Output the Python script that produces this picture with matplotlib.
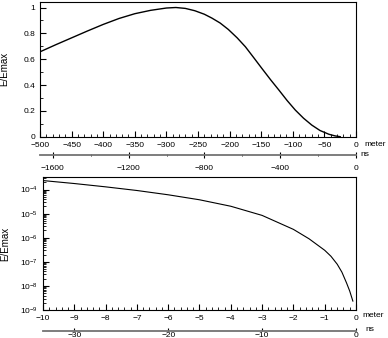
import matplotlib
matplotlib.use("Agg")
import matplotlib.pyplot as plt
from matplotlib.ticker import MultipleLocator, LogLocator, NullFormatter, FuncFormatter

plt.rcParams['font.family'] = ['Liberation Sans', 'DejaVu Sans']

# top panel: field vs distance (meter)
top_m = [-500, -475, -450, -425, -400, -375, -350, -325, -300, -285, -270,
         -255, -240, -228, -215, -202, -188, -175, -162, -149, -135, -122,
         -109, -96, -83, -70, -57, -43, -33, -25]
top_e = [0.657, 0.712, 0.765, 0.818, 0.869, 0.915, 0.952, 0.978, 0.996, 1.0,
         0.993, 0.975, 0.948, 0.918, 0.88, 0.83, 0.765, 0.696, 0.613, 0.529,
         0.44, 0.361, 0.28, 0.206, 0.143, 0.09, 0.048, 0.019, 0.006, 0.0]

# bottom panel: last 10 meters, log scale
bot_m = [-10, -9, -8, -7, -6, -5, -4, -3, -2, -1.5, -1, -0.8, -0.6,
         -0.45, -0.3, -0.2, -0.1]
bot_e = [2.35e-4, 1.77e-4, 1.29e-4, 9.10e-5, 6.04e-5, 3.75e-5, 2.02e-5,
         8.43e-6, 2.22e-6, 9.02e-7, 3.01e-7, 1.70e-7, 7.96e-8, 3.72e-8,
         1.31e-8, 6.09e-9, 2.35e-9]

# time axis ticks (ns)
top_ns_major = [-1600, -1200, -800, -400, 0]
top_ns_minor = [-1400, -1000, -600, -200]
bot_ns_major = [-30, -20, -10, 0]

C_LIGHT = 0.299792458  # meter per ns


def m_to_ns(m):
    return m / C_LIGHT


def ns_to_m(t):
    return t * C_LIGHT


def fmt(v, pos):
    if abs(v) < 1e-9:
        return '0'
    return f'{v:g}'.replace('-', '\u2212')


fig = plt.figure(figsize=(3.88, 3.38), dpi=100)

# ---- top panel ----
ax1 = fig.add_axes([0.1031, 0.5956, 0.8144, 0.3994])
ax1.plot(top_m, top_e, color='black', lw=1.0)
ax1.set_xlim(-500, 0)
ax1.set_ylim(0, 1.045)
ax1.xaxis.set_major_locator(MultipleLocator(50))
ax1.xaxis.set_minor_locator(MultipleLocator(10))
ax1.yaxis.set_major_locator(MultipleLocator(0.2))
ax1.yaxis.set_minor_locator(MultipleLocator(0.1))
ax1.xaxis.set_major_formatter(FuncFormatter(fmt))
ax1.yaxis.set_major_formatter(FuncFormatter(fmt))
ax1.tick_params(which='both', direction='in', top=False, right=False, labelsize=6)
ax1.tick_params(which='major', length=4)
ax1.tick_params(which='minor', length=2)
ax1.set_ylabel('E/Emax', fontsize=7)
ax1.yaxis.set_label_coords(-0.097, 0.5)
ax1.text(1.026, -0.061, 'meter', transform=ax1.transAxes, fontsize=6, va='center')

sec1 = ax1.secondary_xaxis(-0.1356, functions=(m_to_ns, ns_to_m))
sec1.set_xticks(top_ns_major)
sec1.set_xticks(top_ns_minor, minor=True)
sec1.xaxis.set_major_formatter(FuncFormatter(fmt))
sec1.spines['bottom'].set_color('0.45')
sec1.spines['bottom'].set_linewidth(1.3)
sec1.tick_params(which='both', direction='inout', labelsize=6, pad=5)
sec1.tick_params(which='major', length=4)
sec1.tick_params(which='minor', length=2)
ax1.text(1.013, -0.1356, 'ns', transform=ax1.transAxes, fontsize=6, va='center')

# ---- bottom panel ----
ax2 = fig.add_axes([0.1108, 0.0828, 0.8067, 0.3935])
ax2.semilogy(bot_m, bot_e, color='black', lw=0.8)
ax2.set_xlim(-10, 0)
ax2.set_ylim(1e-9, 3.3e-4)
ax2.xaxis.set_major_locator(MultipleLocator(1))
ax2.xaxis.set_minor_locator(MultipleLocator(0.2))
ax2.xaxis.set_major_formatter(FuncFormatter(fmt))
ax2.yaxis.set_major_locator(LogLocator(base=10))
ax2.yaxis.set_minor_locator(LogLocator(base=10, subs=range(2, 10)))
ax2.yaxis.set_minor_formatter(NullFormatter())
ax2.tick_params(which='both', direction='in', top=False, right=False, labelsize=6)
ax2.tick_params(which='major', length=4)
ax2.tick_params(which='minor', length=2)
ax2.set_ylabel('E/Emax', fontsize=7)
ax2.yaxis.set_label_coords(-0.105, 0.5)
ax2.text(1.02, -0.038, 'meter', transform=ax2.transAxes, fontsize=6, va='center')

sec2 = ax2.secondary_xaxis(-0.158, functions=(m_to_ns, ns_to_m))
sec2.set_xticks(bot_ns_major)
sec2.set_xticks([], minor=True)
sec2.xaxis.set_major_formatter(FuncFormatter(fmt))
sec2.spines['bottom'].set_color('0.45')
sec2.spines['bottom'].set_linewidth(1.3)
sec2.tick_params(which='both', direction='in', labelsize=6, pad=1)
sec2.tick_params(which='major', length=2)
ax2.text(1.029, -0.15, 'ns', transform=ax2.transAxes, fontsize=6, va='center')

fig.savefig('out.png', dpi=100)
